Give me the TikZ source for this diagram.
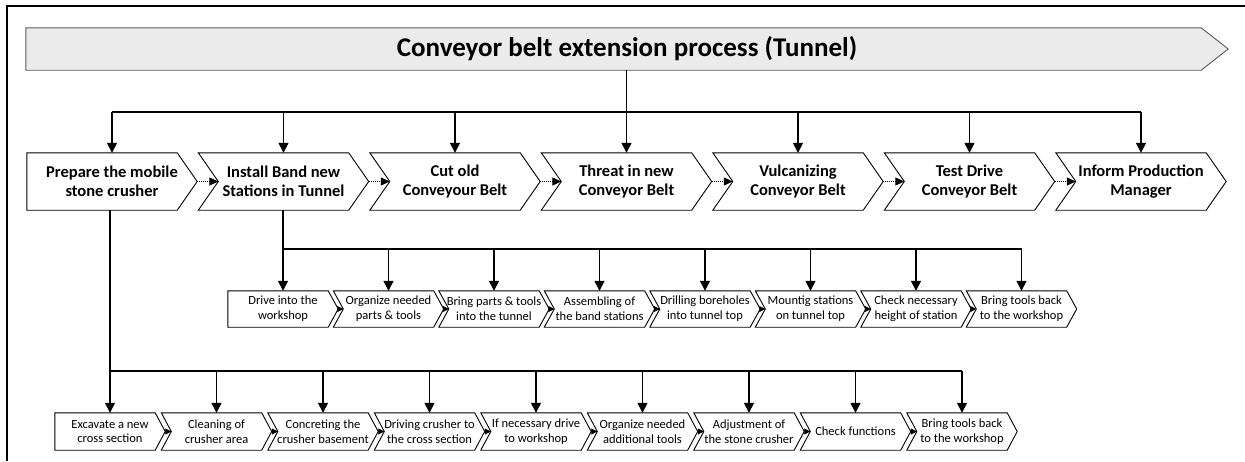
\documentclass[tikz,border=0pt]{standalone}
\usepackage{fontspec}
\setmainfont{Carlito}
\usetikzlibrary{arrows.meta, backgrounds}

\begin{document}
\begin{tikzpicture}[x=1pt, y=-1pt,
  banner/.style={rectangle, minimum width=1202pt, minimum height=42pt, inner sep=0pt,
    font=\bfseries\fontsize{27}{32}\selectfont},
  mainstep/.style={rectangle, minimum width=170pt, minimum height=57pt, inner sep=0pt, align=center,
    font=\bfseries\fontsize{16.5}{19.5}\selectfont},
  substep/.style={rectangle, minimum width=110pt, minimum height=36pt, inner sep=0pt, align=center,
    font=\fontsize{12.5}{14.7}\selectfont},
  outline/.style={draw=black, line width=0.9pt, line join=miter},
  bus/.style={line width=1.4pt},
  feed/.style={line width=1.4pt, -{Triangle[width=10pt,length=10pt]}},
  seqmain/.style={densely dotted, line width=1pt, -{Triangle[width=8pt,length=9pt]}},
  seqsub/.style={line width=0.8pt, -{Triangle[width=6pt,length=6pt]}}]

\useasboundingbox (0,0) rectangle (1245,461);
\draw[line width=2pt] (7,461) -- (7,6) -- (1245,6);

% Title
\node[banner] (title) at (627,49) {Conveyor belt extension process (Tunnel)};
\begin{scope}[on background layer]
\filldraw[fill=black!8, draw=black!65, line width=0.9pt]
  (title.north west) -- ([xshift=-27pt]title.north east) -- (title.east)
  -- ([xshift=-27pt]title.south east) -- (title.south west) -- cycle;
\end{scope}

% Main steps
\node[mainstep] (m1) at (112,181.5) {Prepare the mobile\\stone crusher};
\node[mainstep] (m2) at (283.5,181.5) {Install Band new\\Stations in Tunnel};
\node[mainstep] (m3) at (455,181.5) {Cut old\\Conveyour Belt};
\node[mainstep] (m4) at (626.5,181.5) {Threat in new\\Conveyor Belt};
\node[mainstep] (m5) at (798,181.5) {Vulcanizing\\Conveyor Belt};
\node[mainstep] (m6) at (969.5,181.5) {Test Drive\\Conveyor Belt};
\node[mainstep] (m7) at (1141,181.5) {Inform Production\\Manager};

% Band station tasks
\node[substep] (a1) at (283,309) {Drive into the\\workshop};
\node[substep] (a2) at (388.5,309) {Organize needed\\parts \& tools};
\node[substep] (a3) at (494,309) {Bring parts \& tools\\into the tunnel};
\node[substep] (a4) at (599.5,309) {Assembling of\\the band stations};
\node[substep] (a5) at (705,309) {Drilling boreholes\\into tunnel top};
\node[substep] (a6) at (810.5,309) {Mountig stations\\on tunnel top};
\node[substep] (a7) at (916,309) {Check necessary\\height of station};
\node[substep] (a8) at (1021.5,309) {Bring tools back\\to the workshop};

% Crusher tasks
\node[substep, minimum height=37pt] (b1) at (110,431.5) {Excavate a new\\cross section};
\node[substep, minimum height=37pt] (b2) at (216.5,431.5) {Cleaning of\\crusher area};
\node[substep, minimum height=37pt] (b3) at (323,431.5) {Concreting the\\crusher basement};
\node[substep, minimum height=37pt] (b4) at (429.5,431.5) {Driving crusher to\\the cross section};
\node[substep, minimum height=37pt] (b5) at (536,431.5) {If necessary drive\\to workshop};
\node[substep, minimum height=37pt] (b6) at (642.5,431.5) {Organize needed\\additional tools};
\node[substep, minimum height=37pt] (b7) at (749,431.5) {Adjustment of\\the stone crusher};
\node[substep, minimum height=37pt] (b8) at (855.5,431.5) {Check functions};
\node[substep, minimum height=37pt] (b9) at (962,431.5) {Bring tools back\\to the workshop};

% Chevron outlines (first of each row has a flat back)
\draw[outline] (m1.north west) -- ([xshift=-20pt]m1.north east) -- (m1.east)
  -- ([xshift=-20pt]m1.south east) -- (m1.south west) -- cycle;
\foreach \i in {2,...,7}
  \draw[outline] (m\i.north west) -- ([xshift=-20pt]m\i.north east) -- (m\i.east)
    -- ([xshift=-20pt]m\i.south east) -- (m\i.south west) -- ([xshift=20pt]m\i.west) -- cycle;

\draw[outline] (a1.north west) -- ([xshift=-10pt]a1.north east) -- (a1.east)
  -- ([xshift=-10pt]a1.south east) -- (a1.south west) -- cycle;
\foreach \i in {2,...,8}
  \draw[outline] (a\i.north west) -- ([xshift=-10pt]a\i.north east) -- (a\i.east)
    -- ([xshift=-10pt]a\i.south east) -- (a\i.south west) -- ([xshift=10pt]a\i.west) -- cycle;

\draw[outline] (b1.north west) -- ([xshift=-10pt]b1.north east) -- (b1.east)
  -- ([xshift=-10pt]b1.south east) -- (b1.south west) -- cycle;
\foreach \i in {2,...,9}
  \draw[outline] (b\i.north west) -- ([xshift=-10pt]b\i.north east) -- (b\i.east)
    -- ([xshift=-10pt]b\i.south east) -- (b\i.south west) -- ([xshift=10pt]b\i.west) -- cycle;

% Bus lines
\coordinate (busmain) at (633,112);
\coordinate (busband) at (282,249);
\coordinate (buscrusher) at (108,371);

\draw[line width=1pt] (m4.north |- title.south) -- (m4.north |- busmain);
\draw[bus] (m1.north |- busmain) -- (m7.north |- busmain);
\draw[feed] (m1.north |- busmain) -- (m1.north);
\draw[feed] (m2.north |- busmain) -- (m2.north);
\draw[feed] (m3.north |- busmain) -- (m3.north);
\draw[feed] (m4.north |- busmain) -- (m4.north);
\draw[feed] (m5.north |- busmain) -- (m5.north);
\draw[feed] (m6.north |- busmain) -- (m6.north);
\draw[feed] (m7.north |- busmain) -- (m7.north);

\draw[bus] (a1.north |- m2.south) -- (a1.north |- busband) -- (a8.north |- busband);
\draw[feed] (a1.north |- busband) -- (a1.north);
\draw[feed] (a2.north |- busband) -- (a2.north);
\draw[feed] (a3.north |- busband) -- (a3.north);
\draw[feed] (a4.north |- busband) -- (a4.north);
\draw[feed] (a5.north |- busband) -- (a5.north);
\draw[feed] (a6.north |- busband) -- (a6.north);
\draw[feed] (a7.north |- busband) -- (a7.north);
\draw[feed] (a8.north |- busband) -- (a8.north);

\draw[bus] (b1.north |- m1.south) -- (b1.north |- buscrusher) -- (b9.north |- buscrusher);
\draw[feed] (b1.north |- buscrusher) -- (b1.north);
\draw[feed] (b2.north |- buscrusher) -- (b2.north);
\draw[feed] (b3.north |- buscrusher) -- (b3.north);
\draw[feed] (b4.north |- buscrusher) -- (b4.north);
\draw[feed] (b5.north |- buscrusher) -- (b5.north);
\draw[feed] (b6.north |- buscrusher) -- (b6.north);
\draw[feed] (b7.north |- buscrusher) -- (b7.north);
\draw[feed] (b8.north |- buscrusher) -- (b8.north);
\draw[feed] (b9.north |- buscrusher) -- (b9.north);

% Sequence (tip to notch)
\draw[seqmain] (m1.east) -- ([xshift=20pt]m2.west);
\draw[seqmain] (m2.east) -- ([xshift=20pt]m3.west);
\draw[seqmain] (m3.east) -- ([xshift=20pt]m4.west);
\draw[seqmain] (m4.east) -- ([xshift=20pt]m5.west);
\draw[seqmain] (m5.east) -- ([xshift=20pt]m6.west);
\draw[seqmain] (m6.east) -- ([xshift=20pt]m7.west);

\draw[seqsub] (a1.east) -- ([xshift=10pt]a2.west);
\draw[seqsub] (a2.east) -- ([xshift=10pt]a3.west);
\draw[seqsub] (a3.east) -- ([xshift=10pt]a4.west);
\draw[seqsub] (a4.east) -- ([xshift=10pt]a5.west);
\draw[seqsub] (a5.east) -- ([xshift=10pt]a6.west);
\draw[seqsub] (a6.east) -- ([xshift=10pt]a7.west);
\draw[seqsub] (a7.east) -- ([xshift=10pt]a8.west);

\draw[seqsub] (b1.east) -- ([xshift=10pt]b2.west);
\draw[seqsub] (b2.east) -- ([xshift=10pt]b3.west);
\draw[seqsub] (b3.east) -- ([xshift=10pt]b4.west);
\draw[seqsub] (b4.east) -- ([xshift=10pt]b5.west);
\draw[seqsub] (b5.east) -- ([xshift=10pt]b6.west);
\draw[seqsub] (b6.east) -- ([xshift=10pt]b7.west);
\draw[seqsub] (b7.east) -- ([xshift=10pt]b8.west);
\draw[seqsub] (b8.east) -- ([xshift=10pt]b9.west);
\end{tikzpicture}
\end{document}
